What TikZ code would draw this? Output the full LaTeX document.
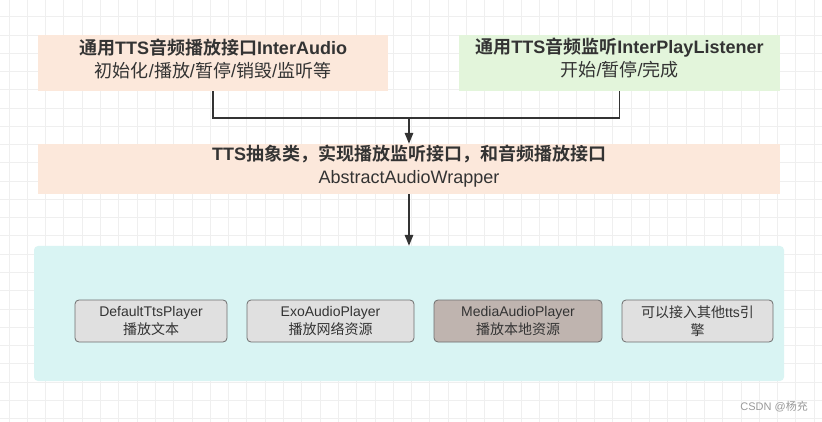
\documentclass[tikz,border=0pt]{standalone}
\usepackage{fontspec}
\setmainfont{Liberation Sans}
\newfontfamily\cjkfont{Noto Sans CJK SC}[BoldFont={Noto Sans CJK SC Bold}]
\newcommand\zh[1]{{\cjkfont #1}}
\usetikzlibrary{arrows.meta}
\definecolor{peachfill}{HTML}{FCE8DB}
\definecolor{greenfill}{HTML}{E3F5DB}
\definecolor{cyanfill}{HTML}{D9F4F3}
\definecolor{greyfill}{HTML}{E0E0E0}
\definecolor{brownfill}{HTML}{BFB4AF}
\definecolor{boxline}{HTML}{6E6E6E}
\definecolor{txt}{HTML}{333333}
\definecolor{gridcol}{HTML}{EFEFEF}
\definecolor{wm}{HTML}{9A9A9A}
\tikzset{
  gridline/.style={draw=gridcol, line width=1pt},
  bigbox/.style={fill=#1, draw=none, inner sep=0pt},
  titletext/.style={text=txt, align=center, font=\fontsize{18}{23}\selectfont, inner sep=0pt},
  player/.style={fill=#1, draw=boxline, line width=0.8pt, rounded corners=4pt, minimum height=42pt,
     inner sep=0pt, text=txt, align=center, font=\fontsize{14}{18.5}\selectfont},
  conn/.style={draw=txt, line width=1.5pt},
  arr/.style={conn, -{Triangle[length=11pt,width=8.5pt]}},
}
\begin{document}
\begin{tikzpicture}[x=1pt,y=-1pt]
\useasboundingbox (0,0) rectangle (822,422);
\fill[white] (0,0) rectangle (822,422);
\foreach \i in {0,...,44} \draw[gridline] ({9+18.3*\i},0) -- ++(0,422);
\foreach \j in {0,...,22} \draw[gridline] (0,{17+18.25*\j}) -- ++(822,0);

% top boxes
\node[bigbox=peachfill, minimum width=350pt, minimum height=56pt] (ia) at (213,63) {};
\node[titletext] (iat) at (213,58.5) {\textbf{\zh{通用}TTS\zh{音频播放接口}InterAudio}\\\zh{初始化}/\zh{播放}/\zh{暂停}/\zh{销毁}/\zh{监听等}};
\node[bigbox=greenfill, minimum width=321pt, minimum height=56pt] (pl) at (619.5,63) {};
\node[titletext] (plt) at (619.5,58.5) {\textbf{\zh{通用}TTS\zh{音频监听}InterPlayListener}\\\zh{开始}/\zh{暂停}/\zh{完成}};

% abstract box
\node[bigbox=peachfill, minimum width=742pt, minimum height=50pt] (ab) at (409,169) {};
\node[titletext] (abt) at (409,166.5) {\textbf{TTS\zh{抽象类，实现播放监听接口，和音频播放接口}}\\AbstractAudioWrapper};

% container
\node[fill=cyanfill, draw=none, rounded corners=4pt, minimum width=750pt, minimum height=135pt, inner sep=0pt] (ct) at (409,313.5) {};

% players
\node[player=greyfill, minimum width=152pt] (dp) at (151,321) {DefaultTtsPlayer\\\zh{播放文本}};
\node[player=greyfill, minimum width=167pt] (ep) at (330.5,321) {ExoAudioPlayer\\\zh{播放网络资源}};
\node[player=brownfill, minimum width=168pt] (mp) at (518,321) {MediaAudioPlayer\\\zh{播放本地资源}};
\node[player=greyfill, minimum width=151pt] (op) at (697.5,321) {\zh{可以接入其他}tts\zh{引}\\\zh{擎}};

% connectors
\coordinate (j) at (409,118);
\draw[conn] (ia.south) -- (ia.south |- j) -| (pl.south);
\draw[arr] (j) -- (ab.north);
\draw[arr] (ab.south) -- (ct.north);

% watermark
\node[text=wm, font=\fontsize{11}{13}\selectfont, inner sep=0pt, anchor=east] (wmk) at (808,407) {CSDN @\zh{杨充}};
\end{tikzpicture}
\end{document}
